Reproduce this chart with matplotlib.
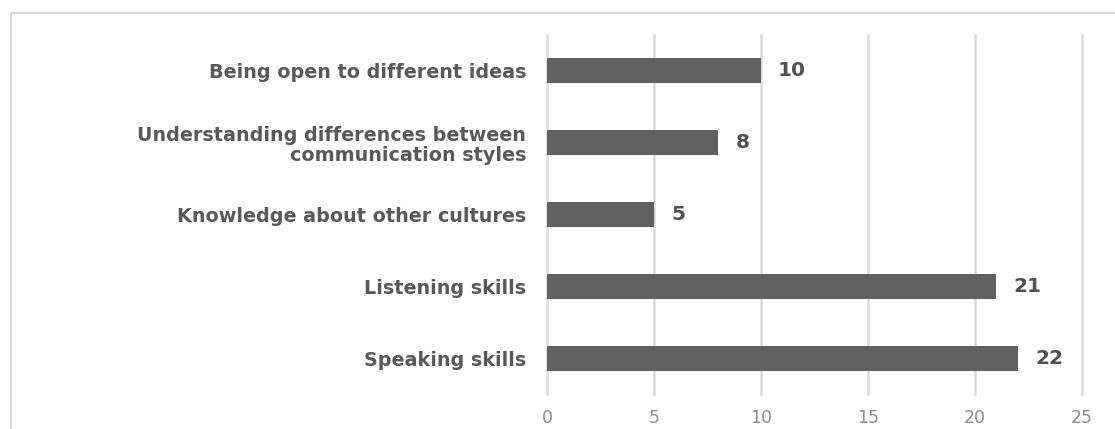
import matplotlib
matplotlib.use("Agg")
import matplotlib.pyplot as plt
from matplotlib.patches import Rectangle

categories = ["Speaking skills", "Listening skills", "Knowledge about other cultures",
              "Understanding differences between\ncommunication styles", "Being open to different ideas"]
values = [22, 21, 5, 8, 10]
xticks = [0, 5, 10, 15, 20, 25]

W, H = 1115, 429
fig = plt.figure(figsize=(W / 100, H / 100), dpi=100)
ax = fig.add_axes([547 / W, 1 - 394 / H, (1082 - 547) / W, (394 - 35) / H])

# outer border (open at right/bottom as cropped)
fig.patches.append(Rectangle((11 / W, -0.1), 1.2, 1 - 13 / H + 0.1, transform=fig.transFigure,
                             fill=False, edgecolor="#d9d9d9", linewidth=1.6))

y = range(len(categories))
ax.barh(y, values, height=0.35, color="#606060", zorder=3)
for yi, v in zip(y, values):
    ax.text(v + 0.8, yi, str(v), va="center", ha="left", fontsize=14.5,
            fontweight="bold", color="#505050")

ax.set_xlim(0, 25)
ax.set_ylim(-0.5, 4.5)
ax.set_xticks(xticks)
ax.set_xticklabels([str(t) for t in xticks], color="#8c8c8c", fontsize=12.5)
ax.set_yticks(list(y))
ax.set_yticklabels(categories, fontsize=13.8, fontweight="bold", color="#595959",
                   linespacing=1.1)
ax.tick_params(axis="x", length=0, pad=11)
ax.tick_params(axis="y", length=0, pad=15)
ax.grid(axis="x", color="#d9d9d9", linewidth=1.8, zorder=0)
for gl in ax.get_xgridlines():
    gl.set_clip_on(False)
for s in ax.spines.values():
    s.set_visible(False)

fig.savefig("out.png", dpi=100)
